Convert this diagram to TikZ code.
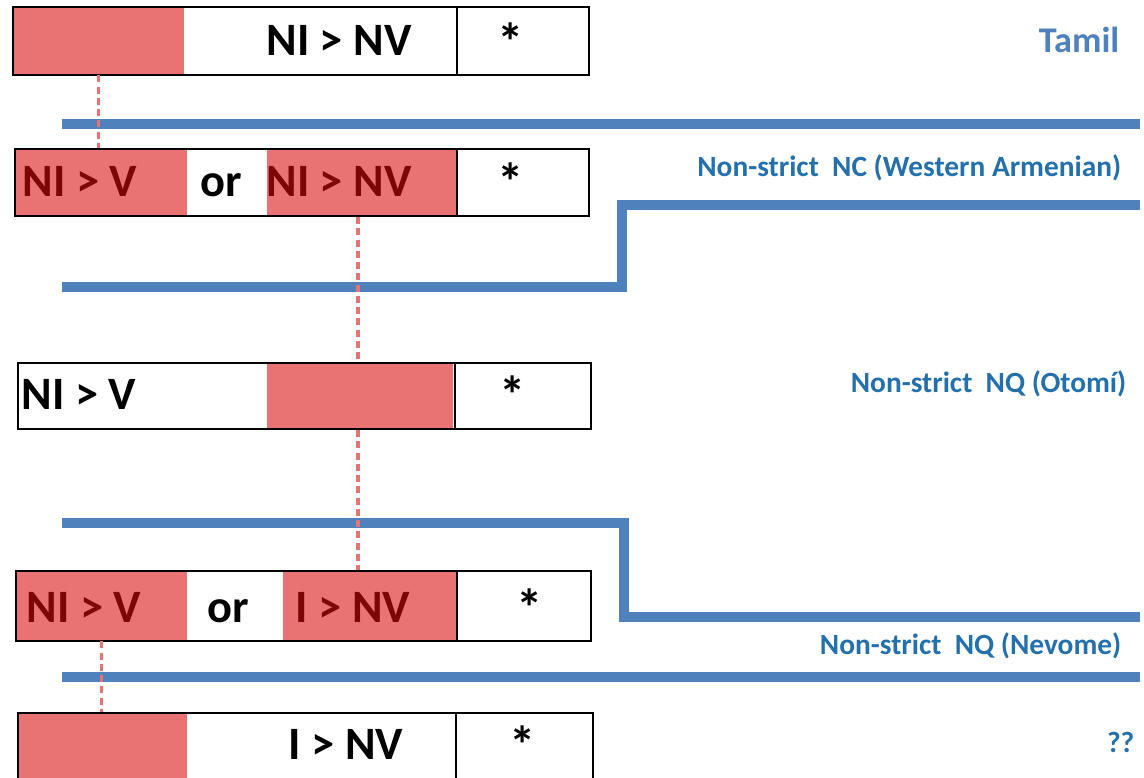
\documentclass[tikz,border=0pt]{standalone}
\usepackage{fontspec}
\setmainfont{Carlito}
\usetikzlibrary{positioning}
\definecolor{cellpink}{HTML}{E97373}
\definecolor{cellred}{HTML}{7A0606}
\definecolor{barblue}{HTML}{4F81BD}
\definecolor{labelblue}{HTML}{2370AD}

\begin{document}
\begin{tikzpicture}[x=0.01cm,y=-0.01cm,
	pinkcell/.style={fill=cellpink,anchor=north west,inner sep=0pt},
	cellbox/.style={draw=black,line width=0.6pt,anchor=north west,inner sep=0pt},
	bigtxt/.style={font=\fontsize{13.2}{15}\selectfont\bfseries,inner sep=0pt,anchor=base},
	startxt/.style={bigtxt,font=\fontsize{15}{17}\selectfont\bfseries},
	redtxt/.style={bigtxt,text=cellred},
	lbl/.style={font=\fontsize{8.35}{10}\selectfont\bfseries,text=labelblue,anchor=base east,inner sep=0pt},
	bar/.style={draw=barblue,line width=2.6pt},
	dashlink/.style={draw=cellpink,line width=0.9pt,dash pattern=on 2pt off 1.2pt}]
	\useasboundingbox (0,0) rectangle (1144,778);
	
	\draw[bar] (62,124) -- (1140,124);
	\draw[bar] (62,287) -- (622,287) -- (622,205) -- (1140,205);
	\draw[bar] (62,523) -- (624,523) -- (624,617) -- (1140,617);
	\draw[bar] (62,677) -- (1140,677);
	
	\node[pinkcell,minimum width=1.71cm,minimum height=0.68cm] (pinkA) at (12,6) {};
	\node[pinkcell,minimum width=1.72cm,minimum height=0.67cm] (pinkB1) at (14,148) {};
	\node[pinkcell,minimum width=1.91cm,minimum height=0.67cm] (pinkB2) at (266,148) {};
	\node[pinkcell,minimum width=1.86cm,minimum height=0.66cm] (pinkC) at (266,362) {};
	\node[pinkcell,minimum width=1.71cm,minimum height=0.70cm] (pinkD1) at (15,570) {};
	\node[pinkcell,minimum width=1.75cm,minimum height=0.70cm] (pinkD2) at (282,570) {};
	\node[pinkcell,minimum width=1.69cm,minimum height=0.68cm] (pinkE) at (17,712) {};
	
	\node[cellbox,minimum width=5.76cm,minimum height=0.68cm] (rowA) at (12,6) {};
	\node[cellbox,minimum width=5.74cm,minimum height=0.67cm] (rowB) at (14,148) {};
	\node[cellbox,minimum width=5.73cm,minimum height=0.66cm] (rowC) at (17,362) {};
	\node[cellbox,minimum width=5.75cm,minimum height=0.70cm] (rowD) at (15,570) {};
	\node[cellbox,minimum width=5.75cm,minimum height=0.68cm] (rowE) at (17,712) {};
	\draw[line width=0.6pt] (457,6) -- (457,74);
	\draw[line width=0.6pt] (457,148) -- (457,215);
	\draw[line width=0.6pt] (455,362) -- (455,428);
	\draw[line width=0.6pt] (457,570) -- (457,640);
	\draw[line width=0.6pt] (456,712) -- (456,780);
	
	\coordinate (linkx) at (358,0);
	\draw[dashlink] (pinkA.south) -- (pinkA.south |- rowB.north);
	\draw[dashlink] (rowB.south -| linkx) -- (rowC.north -| linkx);
	\draw[dashlink] (rowC.south -| linkx) -- (rowD.north -| linkx);
	\draw[dashlink] (pinkD1.south) -- (pinkD1.south |- rowE.north);
	
	\node[bigtxt] (txtA) at (339,55) {NI > NV};
	\node[startxt] (starA) at (511,60) {*};
	\node[redtxt] (txtB1) at (80,196) {NI > V};
	\node[bigtxt] (orB) at (221,196) {or};
	\node[redtxt] (txtB2) at (339,196) {NI > NV};
	\node[startxt] (starB) at (511,200) {*};
	\node[bigtxt] (txtC) at (79,409) {NI > V};
	\node[startxt] (starC) at (513,413) {*};
	\node[redtxt] (txtD1) at (84,622) {NI > V};
	\node[bigtxt] (orD) at (228,622) {or};
	\node[redtxt] (txtD2) at (353,622) {I > NV};
	\node[startxt] (starD) at (530,626) {*};
	\node[bigtxt] (txtE) at (346,759) {I > NV};
	\node[startxt] (starE) at (523,763) {*};
	
	\node[lbl,font=\fontsize{10.3}{12}\selectfont\bfseries,text=barblue] (tamil) at (1120,52) {Tamil};
	\node[lbl] (lblNC) at (1122,176) {Non-strict\ \ NC (Western Armenian)};
	\node[lbl] (lblOt) at (1127,392) {Non-strict\ \ NQ (Otomí)};
	\node[lbl] (lblNe) at (1122,654) {Non-strict\ \ NQ (Nevome)};
	\node[lbl] (lblQ) at (1135,752) {??};
\end{tikzpicture}
\end{document}
